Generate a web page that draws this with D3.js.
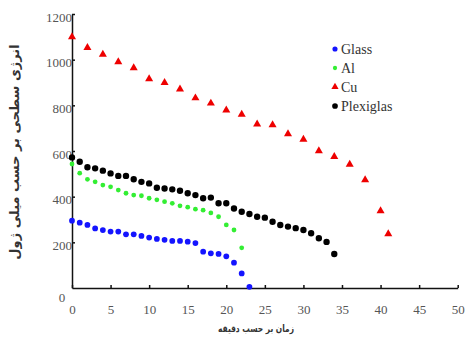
<!DOCTYPE html>
<html>
<head>
<meta charset="utf-8">
<script src="https://cdn.jsdelivr.net/npm/d3@7"></script>
<style>
  html, body { margin: 0; padding: 0; background: #fff; }
  svg { display: block; }
</style>
</head>
<body>
<svg id="chart" width="469" height="342"></svg>
<script>
// ---- data ----
const seriesNames = ["Glass", "Al", "Cu", "Plexiglas"];
const glassTime = [0,1,2,3,4,5,6,7,8,9,10,11,12,13,14,15,16,17,18,19,20,21,22,23];
const glassValues = [295,286,276,261,254,247,247,235,235,228,221,215,211,206,206,203,197,159,152,149,139,111,64,5];
const alTime = [0,1,2,3,4,5,6,7,8,9,10,11,12,13,14,15,16,17,18,19,20,21,22];
const alValues = [543,503,476,465,451,443,429,415,407,404,393,386,378,371,360,354,345,341,329,312,276,254,176];
const cuTime = [0,2,4,6,8,10,12,14,16,18,20,22,24,26,28,30,32,34,36,38,40,41];
const cuValues = [1100,1053,1023,990,964,916,899,871,832,809,779,760,718,714,675,651,600,575,541,473,338,237];
const plexiTime = [0,1,2,3,4,5,6,7,8,9,10,11,12,13,14,15,16,17,18,19,20,21,22,23,24,25,26,27,28,29,30,31,32,33,34];
const plexiValues = [572,553,529,524,514,502,491,491,476,465,458,439,436,432,426,415,407,393,396,371,371,348,334,324,312,308,290,276,269,262,254,240,218,202,149];
const xTicks = [0,5,10,15,20,25,30,35,40,45,50];
const yTicks = [200,400,600,800,1000,1200];
const xTitle = "زمان بر حسب دقیقه";
const yTitle = "انرژی سطحی بر حسب میلی ژول";

// ---- layout ----
const svg = d3.select("#chart");
const x = d3.scaleLinear().domain([0, 50]).range([72, 457.7]);
const y = d3.scaleLinear().domain([0, 1200]).range([288, 14]);

const styles = {
  Glass:     { color: "#1414ff", shape: d3.symbolCircle, size: 26 },
  Al:        { color: "#33ee33", shape: d3.symbolCircle, size: 18 },
  Cu:        { color: "#ee0000", shape: d3.symbolTriangle, size: 28 },
  Plexiglas: { color: "#000000", shape: d3.symbolCircle, size: 32 }
};
const series = [
  { name: "Glass", t: glassTime, v: glassValues },
  { name: "Al", t: alTime, v: alValues },
  { name: "Cu", t: cuTime, v: cuValues },
  { name: "Plexiglas", t: plexiTime, v: plexiValues }
];

// axes
const xAxis = d3.axisBottom(x).tickValues(xTicks).tickSize(-3).tickSizeOuter(0).tickFormat(d3.format("d"));
const gx = svg.append("g").attr("transform", `translate(0,${y(0)})`).call(xAxis);
gx.select(".domain").attr("stroke", "#111").attr("stroke-width", 1.5);
gx.selectAll(".tick line").attr("stroke", "#111").attr("stroke-width", 1.5);
gx.selectAll(".tick text")
  .attr("y", 22).attr("dy", "0.32em")
  .attr("font-family", "Liberation Serif, serif").attr("font-size", 13).attr("fill", "#555");

const yAxis = d3.axisLeft(y).tickValues(yTicks).tickSize(-3).tickSizeOuter(0).tickFormat(d3.format("d"));
const gy = svg.append("g").attr("transform", `translate(${x(0)},0)`).call(yAxis);
gy.select(".domain").attr("stroke", "#111").attr("stroke-width", 1.5);
gy.selectAll(".tick line").attr("stroke", "#111").attr("stroke-width", 1.5);
gy.selectAll(".tick text")
  .attr("x", 0).attr("dy", "0.55em")
  .attr("font-family", "Liberation Serif, serif").attr("font-size", 13).attr("fill", "#555");

// lone zero label of y axis (offset below axis in the original)
svg.append("text").attr("x", x(0) - 10).attr("y", y(0) + 14)
  .attr("text-anchor", "middle")
  .attr("font-family", "Liberation Serif, serif").attr("font-size", 13).attr("fill", "#555")
  .text("0");

// points
series.forEach(s => {
  const st = styles[s.name];
  const sym = d3.symbol().type(st.shape).size(st.size);
  svg.append("g").selectAll("path")
    .data(s.t.map((t, i) => [t, s.v[i]]))
    .join("path")
    .attr("d", sym)
    .attr("transform", d => `translate(${x(d[0])},${y(d[1])})`)
    .attr("fill", st.color);
});

// legend
const legend = svg.append("g").attr("transform", "translate(335,49)");
seriesNames.forEach((n, i) => {
  const st = styles[n];
  const g = legend.append("g").attr("transform", `translate(0,${i * 19})`);
  g.append("path").attr("d", d3.symbol().type(st.shape).size(st.size * 0.8)).attr("fill", st.color);
  g.append("text").attr("x", 6).attr("y", 5)
    .attr("font-family", "Liberation Serif, serif").attr("font-size", 14).attr("fill", "#333")
    .text(n);
});

// axis titles
svg.append("text").attr("x", 256).attr("y", 332)
  .attr("text-anchor", "middle")
  .attr("font-family", "DejaVu Sans, sans-serif").attr("font-weight", "bold")
  .attr("font-size", 10).attr("fill", "#333")
  .attr("textLength", 76).attr("lengthAdjust", "spacingAndGlyphs")
  .text(xTitle);

svg.append("text")
  .attr("transform", "translate(19,152) rotate(-90)")
  .attr("text-anchor", "middle")
  .attr("font-family", "DejaVu Sans, sans-serif").attr("font-weight", "bold")
  .attr("font-size", 13).attr("fill", "#333")
  .text(yTitle);
</script>
</body>
</html>
